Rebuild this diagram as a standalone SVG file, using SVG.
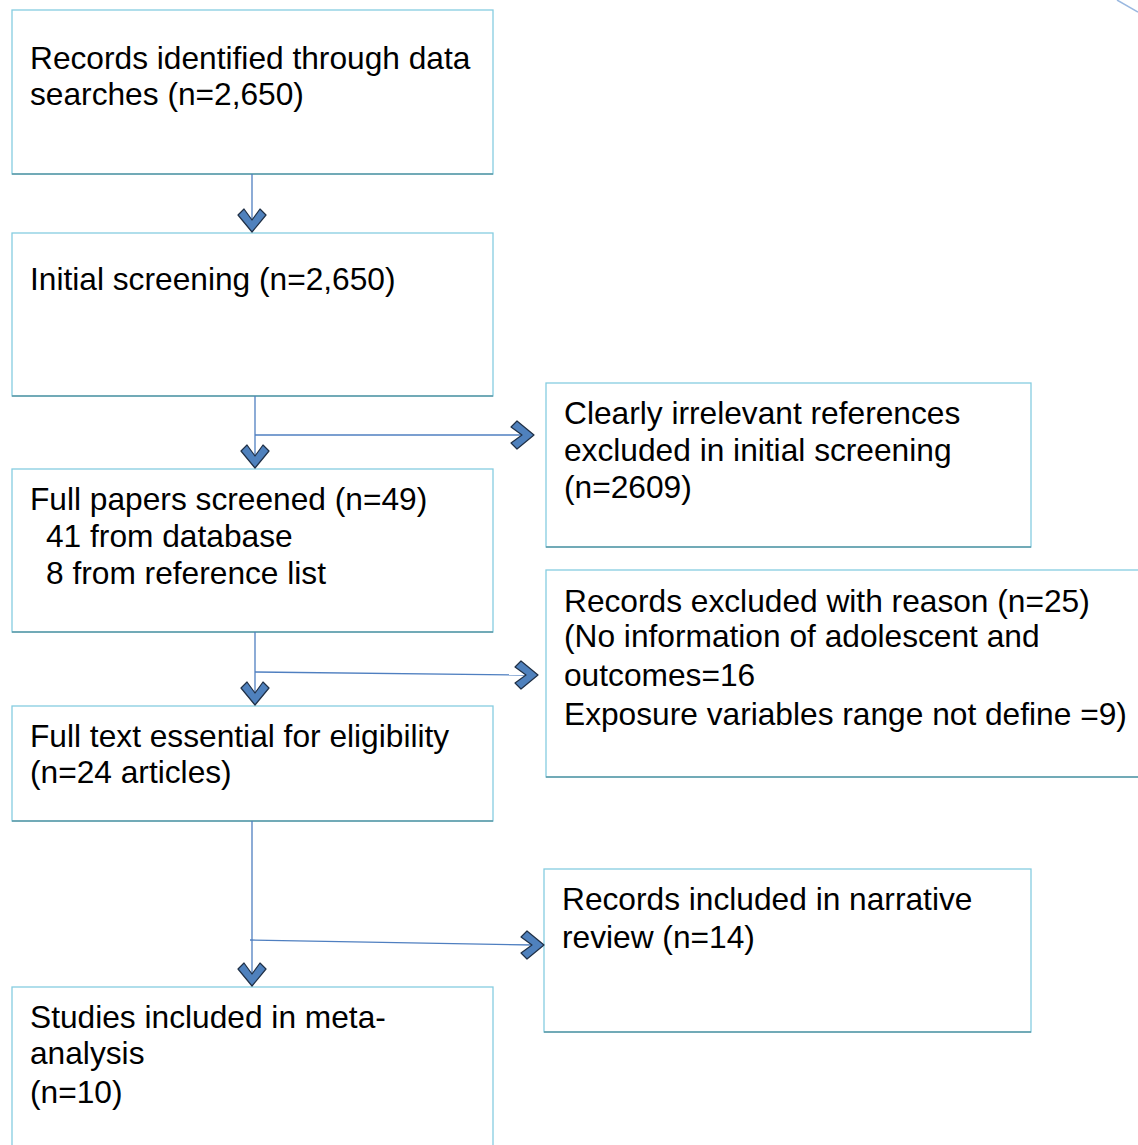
<svg xmlns="http://www.w3.org/2000/svg" width="1138" height="1145" viewBox="0 0 1138 1145">
<style>
.box{fill:#fff;stroke:#86cde0;stroke-width:1.3}
.bot{stroke:#5c98a6;stroke-width:1.6}
.t{font-family:"Liberation Sans",Arial,sans-serif;font-size:31.7px;fill:#000}
.ln{stroke:#4f7fc0;stroke-width:1.3;fill:none}
.hd{fill:#4f81bd;stroke:#1f2f45;stroke-width:1.2;stroke-linejoin:round}
</style>
<defs>
<path id="down" d="M-14,-15 L-8,-21 L0,-10 L8,-21 L14,-15 L0,2 Z"/>
<path id="right" d="M-15,-14 L-21,-8 L-10,0 L-21,8 L-15,14 L2,0 Z"/>
</defs>
<rect width="1138" height="1145" fill="#fff"/>
<line x1="1117" y1="0" x2="1138" y2="12" stroke="#9ab8e0" stroke-width="1.5"/>
<g id="n1">
<rect class="box" x="12" y="10" width="481" height="164"/>
<line class="bot" x1="12" y1="174" x2="493" y2="174"/>
<text class="t" x="30" y="69">Records identified through data</text>
<text class="t" x="30" y="105">searches (n=2,650)</text>
</g>
<g id="n2">
<rect class="box" x="12" y="233" width="481" height="163"/>
<line class="bot" x1="12" y1="396" x2="493" y2="396"/>
<text class="t" x="30" y="290">Initial screening (n=2,650)</text>
</g>
<g id="n3">
<rect class="box" x="12" y="469" width="481" height="163"/>
<line class="bot" x1="12" y1="632" x2="493" y2="632"/>
<text class="t" x="30" y="510">Full papers screened (n=49)</text>
<text class="t" x="46" y="547">41 from database</text>
<text class="t" x="46" y="584">8 from reference list</text>
</g>
<g id="n4">
<rect class="box" x="12" y="706" width="481" height="115"/>
<line class="bot" x1="12" y1="821" x2="493" y2="821"/>
<text class="t" x="30" y="747">Full text essential for eligibility</text>
<text class="t" x="30" y="783">(n=24 articles)</text>
</g>
<g id="n5">
<rect class="box" x="12" y="987" width="481" height="170"/>
<text class="t" x="30" y="1028">Studies included in meta-</text>
<text class="t" x="30" y="1064">analysis</text>
<text class="t" x="30" y="1103">(n=10)</text>
</g>
<g id="nA">
<rect class="box" x="546" y="383" width="485" height="164"/>
<line class="bot" x1="546" y1="547" x2="1031" y2="547"/>
<text class="t" x="564" y="424">Clearly irrelevant references</text>
<text class="t" x="564" y="461">excluded in initial screening</text>
<text class="t" x="564" y="498">(n=2609)</text>
</g>
<g id="nB">
<rect class="box" x="546" y="570" width="600" height="207"/>
<line class="bot" x1="546" y1="777" x2="1138" y2="777"/>
<text class="t" x="564" y="612">Records excluded with reason (n=25)</text>
<text class="t" x="564" y="647">(No information of adolescent and</text>
<text class="t" x="564" y="686">outcomes=16</text>
<text class="t" x="564" y="725">Exposure variables range not define =9)</text>
</g>
<g id="nC">
<rect class="box" x="544" y="869" width="487" height="163"/>
<line class="bot" x1="544" y1="1032" x2="1031" y2="1032"/>
<text class="t" x="562" y="910">Records included in narrative</text>
<text class="t" x="562" y="948">review (n=14)</text>
</g>
<g id="connectors">
<line class="ln" x1="252" y1="174" x2="252" y2="222"/>
<use href="#down" class="hd" x="252" y="230"/>
<line class="ln" x1="255" y1="396" x2="255" y2="458"/>
<use href="#down" class="hd" x="255" y="466"/>
<line class="ln" x1="255" y1="435" x2="524" y2="435"/>
<use href="#right" class="hd" x="532" y="435"/>
<line class="ln" x1="255" y1="632" x2="255" y2="695"/>
<use href="#down" class="hd" x="255" y="703"/>
<line class="ln" x1="255" y1="672" x2="528" y2="675"/>
<use href="#right" class="hd" x="536" y="675"/>
<line class="ln" x1="252" y1="821" x2="252" y2="976"/>
<use href="#down" class="hd" x="252" y="984"/>
<line class="ln" x1="250" y1="940" x2="534" y2="945"/>
<use href="#right" class="hd" x="542" y="945"/>
</g>
</svg>
